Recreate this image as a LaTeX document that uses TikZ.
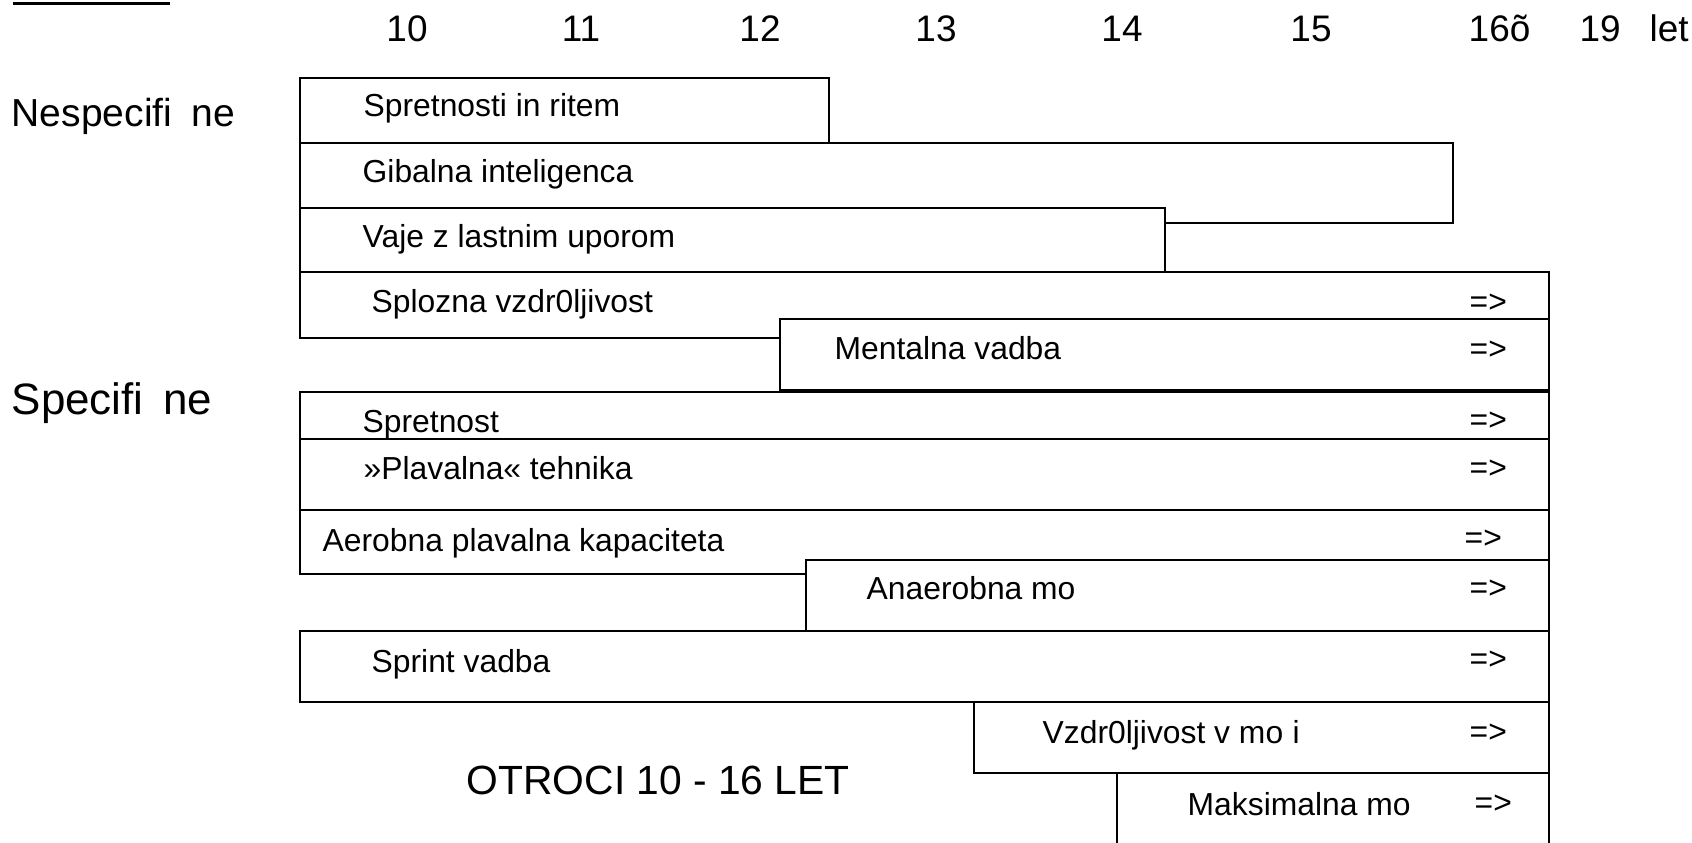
\documentclass[tikz,border=0pt]{standalone}
\usepackage{fontspec}
\setmainfont{Liberation Sans}
\usetikzlibrary{positioning}

\begin{document}
\begin{tikzpicture}[x=0.01cm,y=-0.01cm,
    bar/.style={draw,fill=white,line width=0.45pt},
    txt/.style={anchor=base west,inner sep=0pt,font=\fontsize{9.05}{10}\selectfont},
    age/.style={anchor=base,inner sep=0pt,font=\fontsize{10.5}{12}\selectfont},
    grp/.style={anchor=base west,inner sep=0pt}]
    \useasboundingbox (0,0) rectangle (1692,843);
    \clip (0,0) rectangle (1692,843);

    \draw[line width=0.95pt] (13,3.3) -- (170,3.3);

    % Ages
    \node[age] (a10) at (407,41.7) {10};
    \node[age] (a11) at (581,41.7) {11};
    \node[age] (a12) at (760,41.7) {12};
    \node[age] (a13) at (936,41.7) {13};
    \node[age] (a14) at (1122,41.7) {14};
    \node[age] (a15) at (1311,41.7) {15};
    \node[age,anchor=base west] (a16) at (1468,41.7) {16õ};
    \node[age] (a19) at (1600,41.7) {19};
    \node[age,anchor=base west] (let) at (1649,41.7) {let};

    % Groups
    \node[grp,font=\fontsize{11.1}{13}\selectfont] (nespec) at (11,126.7) {Nespecifi\hspace{0.5em}ne};
    \node[grp,font=\fontsize{12.5}{14}\selectfont] (spec) at (11,414) {Specifi\hspace{0.45em}ne};

    % Bars (non specific)
    \draw[bar] (300,78) rectangle (829,143);
    \node[txt] (ritem) at (363,117) {Spretnosti in ritem};
    \draw[bar] (300,143) rectangle (1453,223);
    \node[txt] (gibalna) at (362,183) {Gibalna inteligenca};
    \draw[bar] (300,208) rectangle (1165,272);
    \node[txt] (vaje) at (362,248) {Vaje z lastnim uporom};
    \draw[bar] (300,272) rectangle (1549,338);
    \node[txt] (splozna) at (371,312) {Splozna vzdr0ljivost};
    \node[txt] (arSplozna) at (1469,312) {=>};
    \draw[bar] (780,319) rectangle (1549,390);
    \node[txt] (mentalna) at (834,360) {Mentalna vadba};
    \node[txt] (arMentalna) at (1469,359) {=>};

    % Bars (specific)
    \draw[bar] (300,392) rectangle (1549,439);
    \node[txt] (spretnost) at (362,432) {Spretnost};
    \node[txt] (arSpretnost) at (1469,430) {=>};
    \draw[bar] (300,439) rectangle (1549,510);
    \node[txt] (tehnika) at (363,479) {»Plavalna« tehnika};
    \node[txt] (arTehnika) at (1469,478) {=>};
    \draw[bar] (300,510) rectangle (1549,574);
    \node[txt] (aerobna) at (322,551) {Aerobna plavalna kapaciteta};
    \node[txt] (arAerobna) at (1464,548) {=>};
    \draw[bar] (806,560) rectangle (1549,631);
    \node[txt] (anaerobna) at (866,599) {Anaerobna mo};
    \node[txt] (arAnaerobna) at (1469,598) {=>};
    \draw[bar] (300,631) rectangle (1549,702);
    \node[txt] (sprint) at (371,672) {Sprint vadba};
    \node[txt] (arSprint) at (1469,669) {=>};
    \draw[bar] (974,702) rectangle (1549,773);
    \node[txt] (vzdrMoci) at (1042,743) {Vzdr0ljivost v mo\hspace{0.3em}i};
    \node[txt] (arVzdrMoci) at (1469,742) {=>};
    \draw[bar] (1117,773) rectangle (1549,860);
    \node[txt] (maks) at (1187,815) {Maksimalna mo};
    \node[txt] (arMaks) at (1474,813) {=>};

    \node[grp,font=\fontsize{11.6}{14}\selectfont] (otroci) at (466,794) {OTROCI 10 - 16 LET};
\end{tikzpicture}
\end{document}
